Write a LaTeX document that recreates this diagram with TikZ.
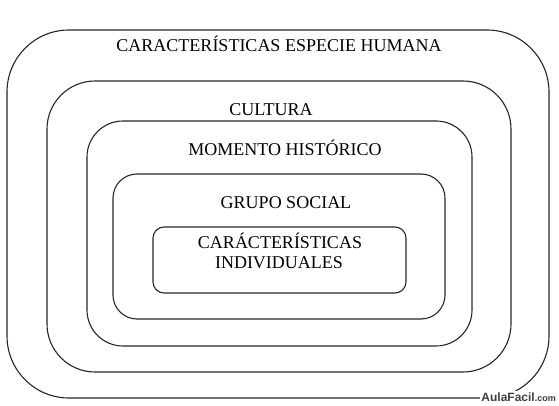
\documentclass[tikz,border=0pt]{standalone}
\usepackage{fontspec}
\setmainfont{Liberation Serif}
\newfontfamily\wmfont{Liberation Sans}
\begin{document}
\begin{tikzpicture}[x=1pt,y=-1pt,
  ring/.style={draw=black!85,line width=1.1pt},
  lbl/.style={font=\fontsize{18}{20}\selectfont,anchor=base,inner sep=0pt},
  wm/.style={font=\wmfont\bfseries,text=black!75,fill=white,inner sep=1pt,anchor=base east}]
\useasboundingbox (0,0) rectangle (559,406);
\draw[ring,rounded corners=62] (7,30) rectangle (549,398);
\draw[ring,rounded corners=48] (47,81) rectangle (511,372);
\draw[ring,rounded corners=36] (87,121) rectangle (472,346);
\draw[ring,rounded corners=24] (113,174) rectangle (445,319);
\draw[ring,rounded corners=11] (153,227) rectangle (406,293);
\node[lbl] (t1) at (279,52) {CARACTERÍSTICAS ESPECIE HUMANA};
\node[lbl] (t2) at (271,116) {CULTURA};
\node[lbl] (t3) at (285,156) {MOMENTO HISTÓRICO};
\node[lbl] (t4) at (286,208) {GRUPO SOCIAL};
\node[lbl] (t5) at (280,248) {CARÁCTERÍSTICAS};
\node[lbl] (t6) at (279,268) {INDIVIDUALES};
\node[wm] (wm) at (557,401) {\fontsize{12}{12}\selectfont AulaFacil\fontsize{9}{9}\selectfont.com};
\end{tikzpicture}
\end{document}
